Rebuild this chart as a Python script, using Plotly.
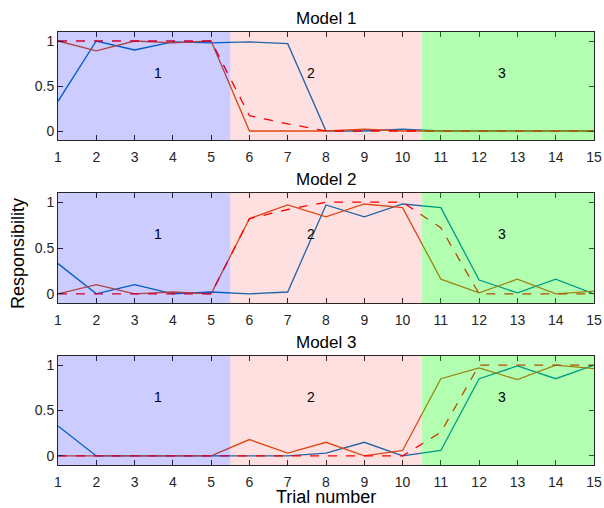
import plotly.graph_objects as go

trials = list(range(1, 16))

m1_blue = [0.33, 1.0, 0.9, 0.99, 0.98, 0.99, 0.97, 0.0, 0.0, 0.02, 0.0, 0.0, 0.0, 0.0, 0.0]
m1_orange = [1.0, 0.89, 1.0, 0.98, 1.0, 0.0, 0.0, 0.0, 0.02, 0.0, 0.0, 0.0, 0.0, 0.0, 0.0]
m1_red = [1.0, 1.0, 1.0, 1.0, 1.0, 0.17, 0.08, 0.0, 0.0, 0.0, 0.0, 0.0, 0.0, 0.0, 0.0]

m2_blue = [0.33, 0.0, 0.1, 0.0, 0.02, 0.0, 0.02, 0.97, 0.84, 0.98, 0.94, 0.15, 0.01, 0.16, 0.0]
m2_orange = [0.0, 0.1, 0.0, 0.02, 0.0, 0.82, 0.97, 0.84, 0.98, 0.94, 0.16, 0.01, 0.16, 0.0, 0.03]
m2_red = [0.0, 0.0, 0.0, 0.0, 0.0, 0.82, 0.92, 1.0, 1.0, 1.0, 0.72, 0.0, 0.0, 0.0, 0.0]

m3_blue = [0.33, 0.0, 0.0, 0.0, 0.0, 0.0, 0.0, 0.03, 0.15, 0.0, 0.06, 0.85, 0.99, 0.85, 1.0]
m3_orange = [0.0, 0.0, 0.0, 0.0, 0.0, 0.18, 0.03, 0.15, 0.0, 0.06, 0.85, 0.97, 0.84, 1.0, 0.96]
m3_red = [0.0, 0.0, 0.0, 0.0, 0.0, 0.0, 0.0, 0.0, 0.0, 0.0, 0.26, 1.0, 1.0, 1.0, 1.0]

titles = ["Model 1", "Model 2", "Model 3"]
regions = [(0.5, 5.5, "rgba(0,0,255,0.2)", "1", 3.6),
           (5.5, 10.5, "rgba(255,0,0,0.12)", "2", 7.6),
           (10.5, 15.5, "rgba(0,255,0,0.3)", "3", 12.6)]
y_ticks = [0, 0.5, 1]
y_tick_labels = ["0", "0.5", "1"]

series = [(m1_blue, m1_orange, m1_red), (m2_blue, m2_orange, m2_red), (m3_blue, m3_orange, m3_red)]

W, H = 604, 508
px_top = [(32, 140), (193, 303), (356, 465)]
xdom = [58 / W, 594 / W]

fig = go.Figure()
font = "Liberation Sans, Arial, sans-serif"
axcol = "#262626"
shapes = []
annotations = []
for i, (b, o, r) in enumerate(series):
    n = "" if i == 0 else str(i + 1)
    xa, ya = "x" + n, "y" + n
    fig.add_trace(go.Scatter(x=trials, y=b, mode="lines", line=dict(color="#0072BD", width=1.3),
                             xaxis=xa, yaxis=ya, showlegend=False))
    fig.add_trace(go.Scatter(x=trials, y=o, mode="lines", line=dict(color="#D95319", width=1.3),
                             xaxis=xa, yaxis=ya, showlegend=False))
    fig.add_trace(go.Scatter(x=trials, y=r, mode="lines", line=dict(color="#FF0000", width=1.3, dash="dash"),
                             xaxis=xa, yaxis=ya, showlegend=False))
    top, bot = px_top[i]
    ydom = [(H - bot) / H, (H - top) / H]
    axis_common = dict(showline=True, linecolor=axcol, linewidth=1, mirror="ticks", ticks="inside",
                       ticklen=5, tickcolor=axcol, tickfont=dict(family=font, size=14, color=axcol),
                       showgrid=False, zeroline=False, automargin=False)
    fig.layout["xaxis" + n] = dict(domain=xdom, range=[1, 15], tickvals=trials, anchor=ya,
                                   ticklabelstandoff=4, **axis_common)
    fig.layout["yaxis" + n] = dict(domain=ydom, range=[-0.1, 1.1], tickvals=y_ticks, ticktext=y_tick_labels,
                                   anchor=xa, **axis_common)
    for (x0, x1, col, lab, lx) in regions:
        shapes.append(dict(type="rect", xref=xa, yref=ya + " domain", x0=x0, x1=min(x1, 15), y0=0, y1=1,
                           fillcolor=col, line=dict(width=0), layer="above"))
        annotations.append(dict(x=lx, y=0.65, xref=xa, yref=ya, text=lab, showarrow=False,
                                font=dict(family=font, size=14, color="black")))
    annotations.append(dict(x=(xdom[0] + xdom[1]) / 2, y=ydom[1], xref="paper", yref="paper",
                            text=titles[i], showarrow=False, yanchor="bottom", yshift=2,
                            font=dict(family=font, size=17, color="black")))

annotations.append(dict(x=(xdom[0] + xdom[1]) / 2, y=0, xref="paper", yref="paper", text="Trial number",
                        showarrow=False, yanchor="bottom", yshift=-1,
                        font=dict(family=font, size=18, color="black")))
annotations.append(dict(x=0, y=0.5, xref="paper", yref="paper", text="Responsibility", textangle=-90,
                        showarrow=False, xanchor="left", xshift=6,
                        font=dict(family=font, size=18, color="black")))

fig.update_layout(width=W, height=H, margin=dict(l=0, r=0, t=0, b=0),
                  paper_bgcolor="white", plot_bgcolor="white",
                  shapes=shapes, annotations=annotations)

fig.write_html("out.html", config={"displayModeBar": False},
               post_script="document.body.style.margin='0px';document.body.style.overflow='hidden';")
